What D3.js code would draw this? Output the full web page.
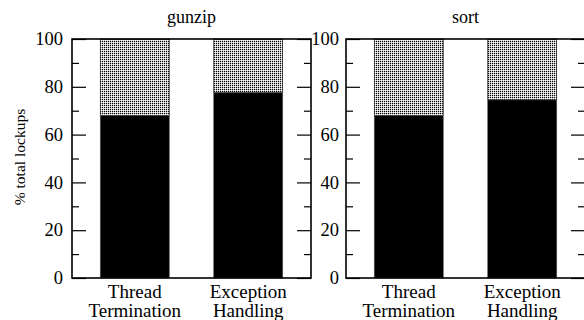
<!DOCTYPE html>
<html>
<head>
<meta charset="utf-8">
<script src="https://cdn.jsdelivr.net/npm/d3@7"></script>
<style>
  body { margin: 0; background: #fff; }
  svg text { font-family: "Liberation Serif", "Times New Roman", serif; fill: #000; }
</style>
</head>
<body>
<svg id="chart" width="584" height="320"></svg>
<script>
// data
const panels = ['gunzip', 'sort'];
const categories = ['Thread Termination', 'Exception Handling'];
const solidPct = {
  gunzip: [68, 77.5],
  sort: [68, 74.5]
};
const yTicks = [0, 20, 40, 60, 80, 100];
const yMinor = [10, 30, 50, 70, 90];

const size = { top: 39, height: 239, width: 239 };
const panelLeft = [72, 346];

const svg = d3.select('#chart');

// stipple for the remainder
const defs = svg.append('defs');
const pat = defs.append('pattern')
  .attr('id', 'dots')
  .attr('patternUnits', 'userSpaceOnUse')
  .attr('width', 2).attr('height', 2);
pat.append('rect').attr('width', 2).attr('height', 2).attr('fill', '#c4c4c4');
pat.append('rect').attr('width', 1).attr('height', 1).attr('fill', '#000');
pat.append('rect').attr('x', 1).attr('y', 1).attr('width', 1).attr('height', 1).attr('fill', '#fff');

const y = d3.scaleLinear().domain([0, 100]).range([size.height, 0]);
const x = d3.scaleBand()
  .domain(categories)
  .range([0, size.width])
  .paddingInner(0.392)
  .paddingOuter(0.249);

panels.forEach((name, i) => {
  const g = svg.append('g')
    .attr('transform', 'translate(' + panelLeft[i] + ',' + size.top + ')');

  const vals = solidPct[name];

  // patterned part (up to 100)
  g.selectAll('rect.rest')
    .data(categories)
    .enter().append('rect')
    .attr('class', 'rest')
    .attr('x', d => x(d))
    .attr('y', y(100))
    .attr('width', x.bandwidth())
    .attr('height', (d, j) => y(vals[j]) - y(100))
    .attr('fill', 'url(#dots)')
    .attr('stroke', '#000')
    .attr('stroke-width', 0.6);

  // solid part
  g.selectAll('rect.solid')
    .data(categories)
    .enter().append('rect')
    .attr('class', 'solid')
    .attr('x', d => x(d))
    .attr('y', (d, j) => y(vals[j]))
    .attr('width', x.bandwidth())
    .attr('height', (d, j) => size.height - y(vals[j]))
    .attr('fill', '#000')
    .attr('stroke', '#555')
    .attr('stroke-width', 0.6);

  // frame
  g.append('rect')
    .attr('width', size.width)
    .attr('height', size.height)
    .attr('fill', 'none')
    .attr('stroke', '#000')
    .attr('stroke-width', 1.6);

  // left axis, ticks pointing in
  g.append('g').call(d3.axisRight(y).tickValues(yTicks).tickSize(14).tickFormat(''))
    .call(a => a.select('.domain').remove());
  g.append('g').call(d3.axisRight(y).tickValues(yMinor).tickSize(7).tickFormat(''))
    .call(a => a.select('.domain').remove());

  // right axis, ticks pointing in
  g.append('g').attr('transform', 'translate(' + size.width + ',0)')
    .call(d3.axisLeft(y).tickValues(yTicks).tickSize(14).tickFormat(''))
    .call(a => a.select('.domain').remove());
  g.append('g').attr('transform', 'translate(' + size.width + ',0)')
    .call(d3.axisLeft(y).tickValues(yMinor).tickSize(7).tickFormat(''))
    .call(a => a.select('.domain').remove());

  g.selectAll('.tick line').attr('stroke', '#000').attr('stroke-width', 1.2);

  // tick labels
  g.selectAll('text.ylab')
    .data(yTicks)
    .enter().append('text')
    .attr('class', 'ylab')
    .attr('x', i === 0 ? -9 : -7)
    .attr('y', d => y(d))
    .attr('dy', '0.33em')
    .attr('text-anchor', 'end')
    .attr('font-size', 18.5)
    .text(d => d);

  // category labels, two lines
  const cl = g.selectAll('text.cat')
    .data(categories)
    .enter().append('text')
    .attr('class', 'cat')
    .attr('text-anchor', 'middle')
    .attr('font-size', 19);
  cl.each(function (d) {
    const words = d.split(' ');
    const t = d3.select(this);
    words.forEach((w, k) => {
      t.append('tspan')
        .attr('x', x(d) + x.bandwidth() / 2)
        .attr('y', size.height + 20 + k * 19)
        .text(w);
    });
  });

  // title
  g.append('text')
    .attr('x', size.width / 2)
    .attr('y', -16)
    .attr('text-anchor', 'middle')
    .attr('font-size', 18)
    .text(name);
});

svg.append('text')
  .attr('transform', 'translate(25,157) rotate(-90)')
  .attr('text-anchor', 'middle')
  .attr('font-size', 15.5)
  .text('% total lockups');
</script>
</body>
</html>
